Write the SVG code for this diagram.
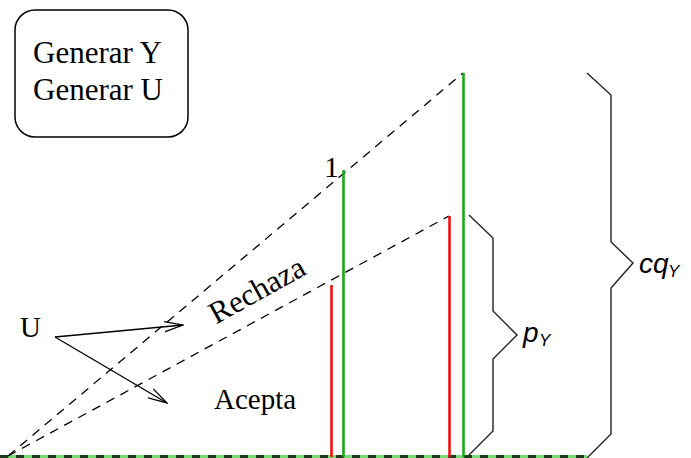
<svg xmlns="http://www.w3.org/2000/svg" width="691" height="458" viewBox="0 0 691 458">
<style>
.serif{font-family:"Liberation Serif","Times New Roman",serif;fill:#000}
.math{font-family:"Liberation Sans",Arial,sans-serif;font-style:italic;fill:#000}
.dash{stroke:#000;stroke-width:1.3;stroke-dasharray:9 7;fill:none}
.brace{stroke:#222;stroke-width:1.4;fill:none}
.green{stroke:#1aa81a;stroke-width:2.6}
.red{stroke:#ee1111;stroke-width:2.6}
.arrow{stroke:#000;stroke-width:1.3;fill:none}
</style>
<defs>
<marker id="ah" markerWidth="20" markerHeight="12" refX="19" refY="6" orient="auto" markerUnits="userSpaceOnUse">
<path d="M0,0.8 L19,6 L0,11.2" fill="none" stroke="#000" stroke-width="1.3"/>
</marker>
</defs>
<rect width="691" height="458" fill="#fff"/>
<g id="box">
<rect x="15" y="10" width="173" height="127" rx="20" ry="20" fill="none" stroke="#000" stroke-width="1.5"/>
<text class="serif" x="33" y="63" font-size="31">Generar Y</text>
<text class="serif" x="33" y="100" font-size="31">Generar U</text>
</g>
<g id="connectors">
<line x1="0" y1="456.5" x2="587" y2="456.5" stroke="#77dd77" stroke-width="3"/>
<line x1="0" y1="456.5" x2="587" y2="456.5" stroke="#1e3a1e" stroke-width="3" stroke-dasharray="8 8"/>
<line class="dash" x1="8" y1="456" x2="463" y2="73"/>
<line class="dash" x1="8" y1="456" x2="449" y2="216"/>
<line class="arrow" x1="55" y1="337" x2="183" y2="325" marker-end="url(#ah)"/>
<line class="arrow" x1="55" y1="337" x2="167" y2="403" marker-end="url(#ah)"/>
</g>
<g id="bars">
<line class="red" x1="331.5" y1="285" x2="331.5" y2="457"/>
<line class="green" x1="343.5" y1="170" x2="343.5" y2="457"/>
<line class="red" x1="449.5" y1="216" x2="449.5" y2="457"/>
<line class="green" x1="463.5" y1="73" x2="463.5" y2="457"/>
</g>
<g id="brace-p">
<path class="brace" d="M469,215 L493,238 L493,311 L517,335 L493,359 L493,431 L469,455"/>
<text class="math" x="523" y="342" font-size="28">p</text>
<text class="math" x="539" y="346" font-size="17">Y</text>
</g>
<g id="brace-cq">
<path class="brace" d="M587,73 L611,95 L611,242 L633,263 L611,288 L611,434 L587,458"/>
<text class="math" x="639" y="273" font-size="28">cq</text>
<text class="math" x="668" y="277" font-size="17">Y</text>
</g>
<g id="labels">
<text class="serif" x="324" y="177" font-size="30">1</text>
<text class="serif" x="20" y="337" font-size="29">U</text>
<text class="serif" x="0" y="0" font-size="31" text-anchor="middle" transform="translate(262,299) rotate(-29)">Rechaza</text>
<text class="serif" x="214" y="409" font-size="29">Acepta</text>
</g>
</svg>
